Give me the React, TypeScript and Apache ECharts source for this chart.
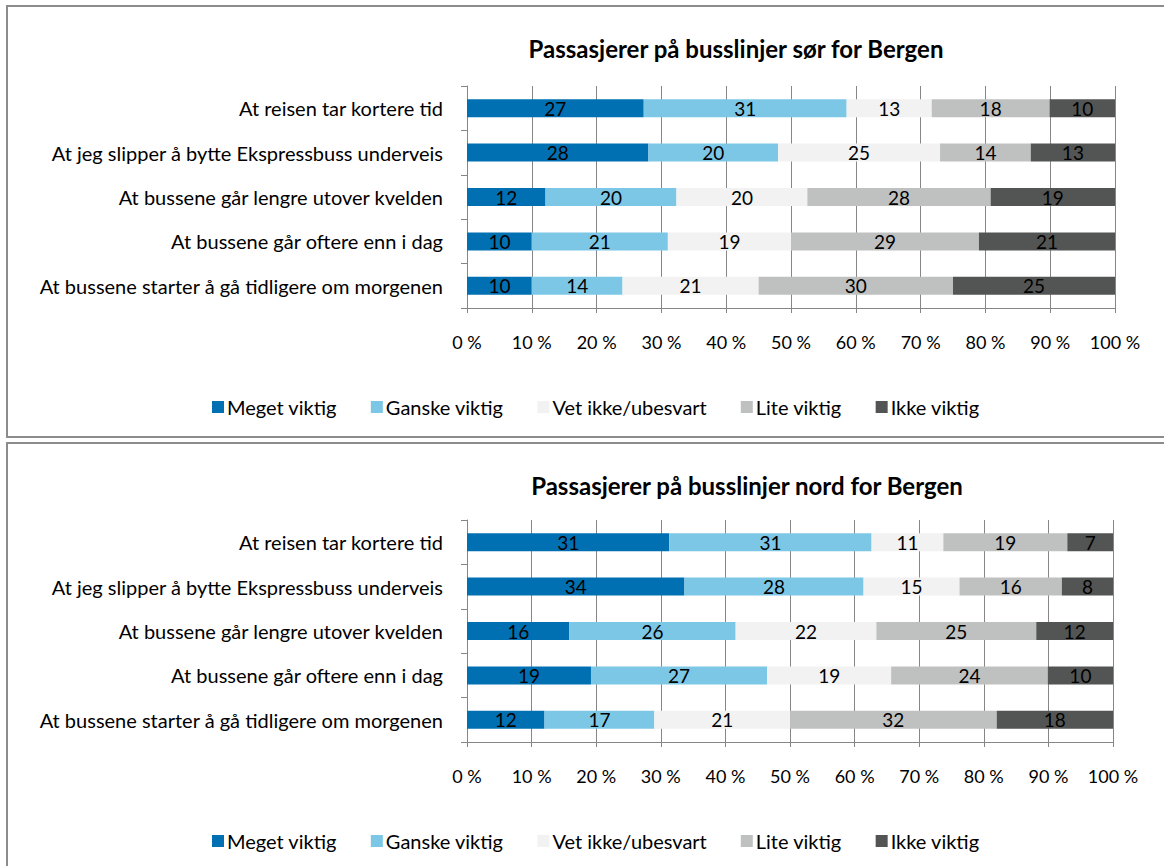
import React, { useEffect, useRef } from "react";
import * as echarts from "echarts";

const categories = [
  "At reisen tar kortere tid",
  "At jeg slipper å bytte Ekspressbuss underveis",
  "At bussene går lengre utover kvelden",
  "At bussene går oftere enn i dag",
  "At bussene starter å gå tidligere om morgenen",
];

const seriesNames = ["Meget viktig", "Ganske viktig", "Vet ikke/ubesvart", "Lite viktig", "Ikke viktig"];
const seriesColors = ["#0070B2", "#7DC7E6", "#F2F2F2", "#BFC1C0", "#535554"];

const titleSor = "Passasjerer på busslinjer sør for Bergen";
const titleNord = "Passasjerer på busslinjer nord for Bergen";

// Sør
const sorMeget = [27, 28, 12, 10, 10];
const sorGanske = [31, 20, 20, 21, 14];
const sorVet = [13, 25, 20, 19, 21];
const sorLite = [18, 14, 28, 29, 30];
const sorIkke = [10, 13, 19, 21, 25];

// Nord
const nordMeget = [31, 34, 16, 19, 12];
const nordGanske = [31, 28, 26, 27, 17];
const nordVet = [11, 15, 22, 19, 21];
const nordLite = [19, 16, 25, 24, 32];
const nordIkke = [7, 8, 12, 10, 18];

const xTicks = [0, 10, 20, 30, 40, 50, 60, 70, 80, 90, 100];

const FONT = "Lato";

export default function App() {
  const ref = useRef<HTMLDivElement>(null);

  useEffect(() => {
    if (!ref.current) return;
    const chart = echarts.init(ref.current, null, { renderer: "svg" });

    const buildSeries = (groups: number[][], gridIndex: number) => {
      const sums = categories.map((_, i) => groups.reduce((s, g) => s + g[i], 0));
      return groups.map((g, k) => ({
        name: seriesNames[k],
        type: "bar",
        stack: "s" + gridIndex,
        xAxisIndex: gridIndex,
        yAxisIndex: gridIndex,
        barWidth: 18,
        itemStyle: { color: seriesColors[k] },
        label: {
          show: true,
          position: "inside",
          color: "#000",
          fontFamily: FONT,
          fontSize: 19,
          formatter: (p: any) => String(p.data.raw),
        },
        emphasis: { disabled: true },
        data: g.map((v, i) => ({ value: (v / sums[i]) * 100, raw: v })),
      }));
    };

    const gridTops = [86, 520];
    const xAxis = gridTops.map((_, i) => ({
      type: "value",
      gridIndex: i,
      min: 0,
      max: 100,
      interval: 10,
      axisLine: { show: true, lineStyle: { color: "#868686", width: 1 } },
      axisTick: { show: true, length: 5, lineStyle: { color: "#868686" } },
      splitLine: { show: true, lineStyle: { color: "#868686", width: 1 } },
      axisLabel: {
        color: "#000",
        fontFamily: FONT,
        fontSize: 18,
        margin: 25,
        formatter: (v: number) => (xTicks.includes(v) ? v + " %" : ""),
      },
    }));
    const yAxis = gridTops.map((_, i) => ({
      type: "category",
      gridIndex: i,
      inverse: true,
      data: categories,
      axisLine: { show: true, lineStyle: { color: "#868686", width: 1 } },
      axisTick: { show: true, length: 6, alignWithLabel: false, lineStyle: { color: "#868686" } },
      axisLabel: { color: "#000", fontFamily: FONT, fontSize: 20, margin: 24 },
    }));

    const legendTops = [392, 826];

    chart.setOption({
      animation: false,
      backgroundColor: "#fff",
      title: [
        {
          text: titleSor,
          left: 731,
          top: 31,
          textAlign: "center",
          textStyle: { fontFamily: FONT, fontSize: 24, fontWeight: "bold", color: "#000" },
        },
        {
          text: titleNord,
          left: 742,
          top: 468,
          textAlign: "center",
          textStyle: { fontFamily: FONT, fontSize: 24, fontWeight: "bold", color: "#000" },
        },
      ],
      grid: [
        { left: 467, right: 49, top: gridTops[0], height: 222 },
        { left: 467, right: 51, top: gridTops[1], height: 222 },
      ],
      legend: legendTops.map((t) => ({
        data: seriesNames,
        left: 207,
        top: t,
        itemWidth: 12,
        itemHeight: 12,
        itemGap: 34,
        icon: "rect",
        selectedMode: false,
        textStyle: { fontFamily: FONT, fontSize: 20, color: "#000", padding: [0, 0, 0, -2] },
      })),
      xAxis,
      yAxis,
      series: [
        ...buildSeries([sorMeget, sorGanske, sorVet, sorLite, sorIkke], 0),
        ...buildSeries([nordMeget, nordGanske, nordVet, nordLite, nordIkke], 1),
      ],
      graphic: [
        {
          type: "rect",
          shape: { x: 7, y: 6, width: 1200, height: 431 },
          style: { fill: "none", stroke: "#8c8c8c", lineWidth: 2 },
          silent: true,
        },
        {
          type: "rect",
          shape: { x: 7, y: 443, width: 1200, height: 500 },
          style: { fill: "none", stroke: "#8c8c8c", lineWidth: 2 },
          silent: true,
        },
      ],
    });

    return () => chart.dispose();
  }, []);

  return (
    <div
      ref={ref}
      style={{ position: "absolute", left: 0, top: 0, width: 1164, height: 866 }}
    />
  );
}
